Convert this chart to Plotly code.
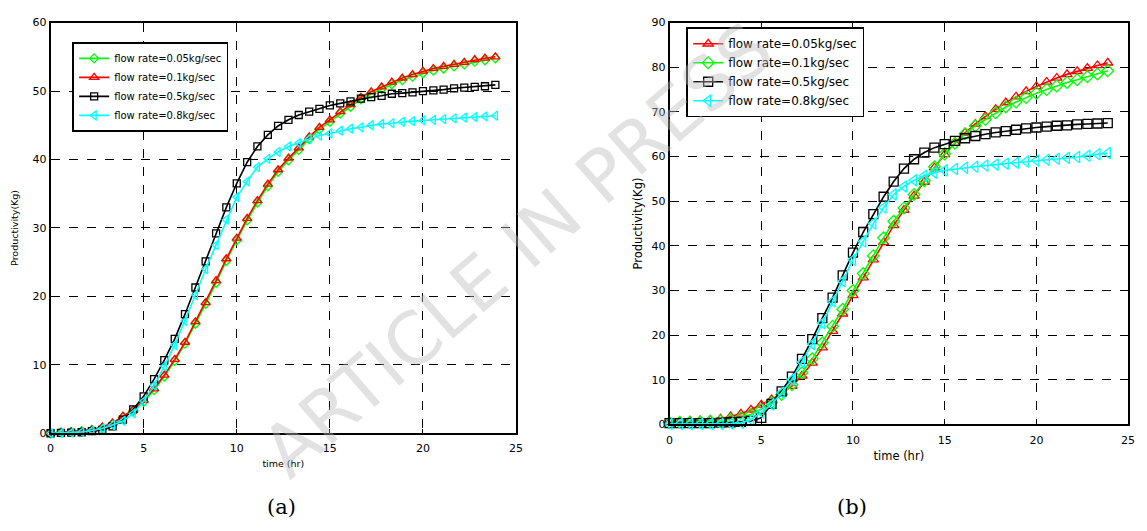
import plotly.graph_objects as go

# time axis (hr), samples every 2000 s
t = [0.0, 0.56, 1.11, 1.67, 2.22, 2.78, 3.33, 3.89, 4.44, 5.0, 5.56, 6.11, 6.67, 7.22,
     7.78, 8.33, 8.89, 9.44, 10.0, 10.56, 11.11, 11.67, 12.22, 12.78, 13.33, 13.89,
     14.44, 15.0, 15.56, 16.11, 16.67, 17.22, 17.78, 18.33, 18.89, 19.44, 20.0, 20.56,
     21.11, 21.67, 22.22, 22.78, 23.33, 23.89]

labels = ["flow rate=0.05kg/sec", "flow rate=0.1kg/sec",
          "flow rate=0.5kg/sec", "flow rate=0.8kg/sec"]

# ---- panel (a) ----
a_005 = [0.0, 0.1, 0.2, 0.3, 0.5, 0.8, 1.4, 2.3, 3.3, 4.6, 6.3, 8.3, 10.6, 13.1, 16.0,
         18.9, 22.0, 25.2, 28.2, 31.1, 33.7, 36.1, 38.2, 39.9, 41.4, 43.0, 44.4, 45.5,
         46.7, 47.7, 48.8, 49.6, 50.3, 51.0, 51.6, 52.1, 52.6, 53.0, 53.3, 53.6, 53.9,
         54.3, 54.5, 54.8]
a_01 = [0.0, 0.1, 0.2, 0.3, 0.5, 0.9, 1.5, 2.5, 3.4, 4.8, 6.5, 8.5, 10.8, 13.3, 16.3,
        19.1, 22.3, 25.5, 28.5, 31.4, 34.0, 36.4, 38.5, 40.2, 41.7, 43.3, 44.7, 45.8,
        47.0, 48.0, 49.1, 49.9, 50.6, 51.3, 51.9, 52.4, 52.9, 53.3, 53.6, 53.9, 54.2,
        54.6, 54.8, 55.0]
a_05 = [0.0, 0.05, 0.1, 0.15, 0.3, 0.5, 1.0, 2.0, 3.5, 5.4, 7.9, 10.7, 13.8, 17.4, 21.3,
        25.1, 29.2, 33.0, 36.5, 39.6, 41.9, 43.6, 44.9, 45.8, 46.5, 47.0, 47.4, 47.9,
        48.2, 48.5, 48.9, 49.1, 49.3, 49.6, 49.7, 49.8, 50.0, 50.1, 50.2, 50.4, 50.5,
        50.6, 50.7, 50.9]
a_08 = [0.0, 0.05, 0.1, 0.2, 0.4, 0.7, 1.2, 1.8, 2.9, 4.7, 7.0, 9.8, 12.9, 16.4, 20.2,
        24.0, 27.5, 31.2, 34.5, 36.8, 38.9, 40.1, 41.1, 41.9, 42.4, 43.0, 43.5, 43.8,
        44.2, 44.5, 44.7, 45.0, 45.2, 45.3, 45.5, 45.6, 45.7, 45.8, 45.9, 46.0, 46.1,
        46.2, 46.3, 46.4]

# ---- panel (b) ----
b_005 = [0.5, 0.7, 0.8, 0.9, 1.0, 1.3, 1.8, 2.4, 3.3, 4.4, 5.6, 7.0, 8.6, 10.9, 13.8,
         17.2, 20.9, 24.8, 28.9, 32.9, 36.9, 40.8, 44.6, 48.0, 51.2, 54.3, 57.5, 60.5,
         63.0, 65.3, 67.3, 69.0, 70.6, 72.1, 73.4, 74.6, 75.7, 76.7, 77.6, 78.4, 79.1,
         79.8, 80.4, 81.0]
b_01 = [0.4, 0.5, 0.5, 0.6, 0.7, 0.8, 1.1, 1.5, 2.3, 3.4, 4.9, 6.7, 8.9, 11.6, 14.7,
        18.3, 22.0, 25.8, 30.0, 33.8, 37.8, 41.8, 45.5, 48.5, 51.5, 54.6, 57.7, 60.6,
        63.0, 65.1, 66.9, 68.3, 69.8, 71.1, 72.2, 73.2, 74.2, 75.0, 75.8, 76.6, 77.2,
        77.9, 78.5, 79.2]
b_05 = [0.3, 0.3, 0.3, 0.3, 0.3, 0.4, 0.5, 0.6, 0.8, 1.5, 4.6, 7.4, 10.7, 14.7, 19.1,
        23.8, 28.4, 33.4, 38.5, 43.1, 47.1, 51.0, 54.4, 57.3, 59.4, 60.9, 62.0, 62.8,
        63.5, 64.1, 64.6, 65.0, 65.4, 65.7, 66.0, 66.3, 66.5, 66.7, 66.9, 67.0, 67.2,
        67.3, 67.4, 67.5]
b_08 = [0.1, 0.1, 0.1, 0.1, 0.1, 0.1, 0.2, 0.4, 1.0, 2.7, 4.5, 7.1, 10.1, 14.0, 18.0,
        22.7, 27.6, 32.1, 36.9, 41.0, 45.0, 48.6, 51.5, 53.3, 54.7, 55.7, 56.4, 56.9,
        57.2, 57.5, 57.7, 58.0, 58.2, 58.4, 58.6, 58.9, 59.1, 59.3, 59.5, 59.7, 59.9,
        60.2, 60.5, 60.8]

x_ticks = [0, 5, 10, 15, 20, 25]
ya_ticks = [0, 10, 20, 30, 40, 50, 60]
yb_ticks = [0, 10, 20, 30, 40, 50, 60, 70, 80, 90]

W, H = 1147, 531
FONT = "DejaVu Sans"

def px_x(p):
    return p / W

def px_y(p):
    return 1 - p / H

GREEN = dict(color="#00ff00", symbol="diamond-open")
RED = dict(color="#ff0000", symbol="triangle-up-open")
BLACK = dict(color="#000000", symbol="square-open")
CYAN = dict(color="#00ffff", symbol="triangle-left-open")

fig = go.Figure()

def add(y, name, st, xa, ya, leg, msize):
    fig.add_trace(go.Scatter(
        x=t, y=y, name=name, mode="lines+markers",
        xaxis=xa, yaxis=ya, legend=leg, cliponaxis=False,
        line=dict(color=st["color"], width=1.6),
        marker=dict(symbol=st["symbol"], size=msize, color=st["color"],
                    line=dict(color=st["color"], width=1.3)),
    ))

# panel (a): legend order green(0.05), red(0.1), black, cyan
add(a_005, labels[0], GREEN, "x", "y", "legend", 7)
add(a_01, labels[1], RED, "x", "y", "legend", 8)
add(a_05, labels[2], BLACK, "x", "y", "legend", 7)
add(a_08, labels[3], CYAN, "x", "y", "legend", 8)
# panel (b): legend order red(0.05), green(0.1), black, cyan
add(b_005, labels[0], RED, "x2", "y2", "legend2", 9)
add(b_01, labels[1], GREEN, "x2", "y2", "legend2", 9)
add(b_05, labels[2], BLACK, "x2", "y2", "legend2", 9)
add(b_08, labels[3], CYAN, "x2", "y2", "legend2", 10)

axis_common = dict(
    showline=True, linecolor="black", linewidth=1.8, mirror=True,
    showgrid=True, gridcolor="black", griddash="dash", gridwidth=1,
    zeroline=False, ticks="inside", ticklen=4, tickcolor="black",
    tickfont=dict(family=FONT, size=11, color="black"),
)

fig.update_layout(
    width=W, height=H,
    margin=dict(l=0, r=0, t=0, b=0),
    paper_bgcolor="white", plot_bgcolor="white",
    font=dict(family=FONT, color="black"),
    xaxis=dict(domain=[px_x(47), px_x(517)], range=[0, 25], tickvals=x_ticks,
               anchor="y", ticklabelstandoff=4,
               title=dict(text="time (hr)", font=dict(size=9.5), standoff=6),
               **axis_common),
    yaxis=dict(domain=[px_y(438), px_y(17)], range=[0, 60], tickvals=ya_ticks,
               anchor="x", title=dict(text="Productivity(Kg)", font=dict(size=9.5), standoff=12),
               **axis_common),
    xaxis2=dict(domain=[px_x(672), px_x(1135)], range=[0, 25], tickvals=x_ticks,
                anchor="y2", ticklabelstandoff=4,
                title=dict(text="time (hr)", font=dict(size=11.5), standoff=6),
                **axis_common),
    yaxis2=dict(domain=[px_y(429), px_y(17)], range=[0, 90], tickvals=yb_ticks,
                anchor="x2", title=dict(text="Productivity(Kg)", font=dict(size=11.5), standoff=6),
                **axis_common),
    legend=dict(x=px_x(69), y=px_y(37), xanchor="left", yanchor="top",
                bgcolor="white", bordercolor="black", borderwidth=1.8,
                font=dict(family=FONT, size=10, color="black"),
                tracegroupgap=0, itemwidth=30),
    legend2=dict(x=px_x(689), y=px_y(22), xanchor="left", yanchor="top",
                 bgcolor="white", bordercolor="black", borderwidth=1.8,
                 font=dict(family=FONT, size=12, color="black"),
                 tracegroupgap=0, itemwidth=30),
    showlegend=True,
)

# captions
fig.add_annotation(text="(a)", x=px_x(280), y=px_y(514), xref="paper", yref="paper",
                   xanchor="center", yanchor="middle", showarrow=False,
                   font=dict(family="DejaVu Serif", size=21, color="black"))
fig.add_annotation(text="(b)", x=px_x(856), y=px_y(514), xref="paper", yref="paper",
                   xanchor="center", yanchor="middle", showarrow=False,
                   font=dict(family="DejaVu Serif", size=21, color="black"))

# watermark
fig.add_annotation(text="ARTICLE IN PRESS", x=px_x(518), y=px_y(250), xref="paper", yref="paper",
                   xanchor="center", yanchor="middle",
                   showarrow=False, textangle=-41,
                   font=dict(family=FONT, size=72, color="rgba(185,185,185,0.42)"))

fig.write_html("out.html")
